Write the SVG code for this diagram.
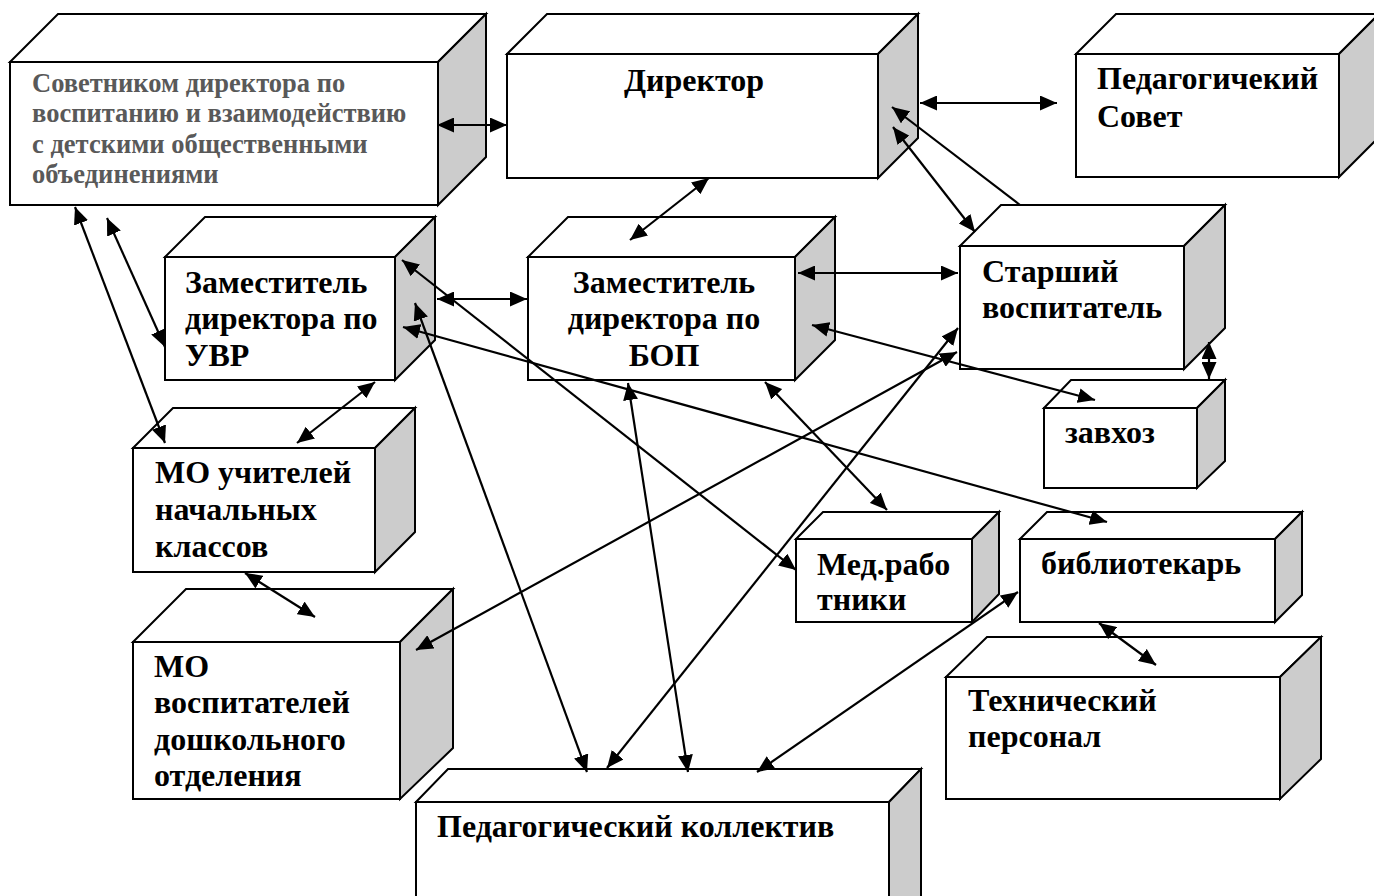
<svg xmlns="http://www.w3.org/2000/svg" width="1374" height="896" viewBox="0 0 1374 896">
<style>
.fr{fill:#fff;stroke:#000;stroke-width:2;stroke-linejoin:miter}
.sd{fill:#cccccc;stroke:#000;stroke-width:2;stroke-linejoin:miter}
.t{font-family:"Liberation Serif","Times New Roman",serif;font-weight:bold;font-size:32px;fill:#000}
.g{font-family:"Liberation Serif","Times New Roman",serif;font-weight:bold;font-size:26.5px;fill:#595959}
.c line{stroke:#000;stroke-width:2.2;fill:none}
</style>
<defs>
<marker id="a" markerUnits="userSpaceOnUse" markerWidth="17" markerHeight="15" refX="17" refY="7.5" orient="auto-start-reverse" viewBox="0 0 17 15">
<path d="M0,0 L17,7.5 L0,15 z" fill="#000"/>
</marker>
</defs>
<rect width="1374" height="896" fill="#fff"/>

<g id="sovetnik">
<polygon class="fr" points="10,62 58,14 486,14 438,62"/>
<polygon class="sd" points="438,62 486,14 486,157 438,205"/>
<rect class="fr" x="10" y="62" width="428" height="143"/>
<text class="g" x="32" y="92">Советником директора по</text>
<text class="g" x="32" y="122">воспитанию и взаимодействию</text>
<text class="g" x="32" y="153">с детскими общественными</text>
<text class="g" x="32" y="183">объединениями</text>
</g>

<g id="direktor">
<polygon class="fr" points="507,54 547,14 918,14 878,54"/>
<polygon class="sd" points="878,54 918,14 918,138 878,178"/>
<rect class="fr" x="507" y="54" width="371" height="124"/>
<text class="t" x="694" y="91" text-anchor="middle">Директор</text>
</g>

<g id="pedsovet">
<polygon class="fr" points="1076,54 1116,14 1379,14 1339,54"/>
<polygon class="sd" points="1339,54 1379,14 1379,137 1339,177"/>
<rect class="fr" x="1076" y="54" width="263" height="123"/>
<text class="t" x="1097" y="89">Педагогичекий</text>
<text class="t" x="1097" y="127">Совет</text>
</g>

<g id="zam-uvr">
<polygon class="fr" points="165,257 205,217 435,217 395,257"/>
<polygon class="sd" points="395,257 435,217 435,340 395,380"/>
<rect class="fr" x="165" y="257" width="230" height="123"/>
<text class="t" x="185" y="293">Заместитель</text>
<text class="t" x="185" y="329">директора по</text>
<text class="t" x="185" y="366">УВР</text>
</g>

<g id="zam-bop">
<polygon class="fr" points="528,257 568,217 835,217 795,257"/>
<polygon class="sd" points="795,257 835,217 835,340 795,380"/>
<rect class="fr" x="528" y="257" width="267" height="123"/>
<text class="t" x="664" y="293" text-anchor="middle">Заместитель</text>
<text class="t" x="664" y="329" text-anchor="middle">директора по</text>
<text class="t" x="664" y="366" text-anchor="middle">БОП</text>
</g>

<g id="starshiy">
<polygon class="fr" points="960,246 1001,205 1225,205 1184,246"/>
<polygon class="sd" points="1184,246 1225,205 1225,328 1184,369"/>
<rect class="fr" x="960" y="246" width="224" height="123"/>
<text class="t" x="982" y="282">Старший</text>
<text class="t" x="982" y="318">воспитатель</text>
</g>

<g id="zavhoz">
<polygon class="fr" points="1044,408 1071,380 1225,380 1197,408"/>
<polygon class="sd" points="1197,408 1225,380 1225,461 1197,488"/>
<rect class="fr" x="1044" y="408" width="153" height="80"/>
<text class="t" x="1065" y="443">завхоз</text>
</g>

<g id="mo-uchiteley">
<polygon class="fr" points="133,448 173,408 415,408 375,448"/>
<polygon class="sd" points="375,448 415,408 415,532 375,572"/>
<rect class="fr" x="133" y="448" width="242" height="124"/>
<text class="t" x="155" y="483">МО учителей</text>
<text class="t" x="155" y="520">начальных</text>
<text class="t" x="155" y="557">классов</text>
</g>

<g id="mo-vospitateley">
<polygon class="fr" points="133,642 186,589 453,589 400,642"/>
<polygon class="sd" points="400,642 453,589 453,748 400,799"/>
<rect class="fr" x="133" y="642" width="267" height="157"/>
<text class="t" x="154" y="677">МО</text>
<text class="t" x="154" y="713">воспитателей</text>
<text class="t" x="154" y="750">дошкольного</text>
<text class="t" x="154" y="786">отделения</text>
</g>

<g id="med">
<polygon class="fr" points="796,539 823,512 999,512 972,539"/>
<polygon class="sd" points="972,539 999,512 999,594 972,622"/>
<rect class="fr" x="796" y="539" width="176" height="83"/>
<text class="t" x="817" y="575">Мед.рабо</text>
<text class="t" x="817" y="610">тники</text>
</g>

<g id="bibliotekar">
<polygon class="fr" points="1020,539 1047,512 1302,512 1275,539"/>
<polygon class="sd" points="1275,539 1302,512 1302,595 1275,622"/>
<rect class="fr" x="1020" y="539" width="255" height="83"/>
<text class="t" x="1041" y="574">библиотекарь</text>
</g>

<g id="tehpersonal">
<polygon class="fr" points="946,677 987,637 1321,637 1280,677"/>
<polygon class="sd" points="1280,677 1321,637 1321,759 1280,799"/>
<rect class="fr" x="946" y="677" width="334" height="122"/>
<text class="t" x="968" y="711">Технический</text>
<text class="t" x="968" y="747">персонал</text>
</g>

<g id="pedkollektiv">
<polygon class="fr" points="416,802 448,769 921,769 889,802"/>
<polygon class="sd" points="889,802 921,769 921,930 889,960"/>
<rect class="fr" x="416" y="802" width="473" height="160"/>
<text class="t" x="437" y="837">Педагогический коллектив</text>
</g>

<g id="connectors" class="c">
<line x1="437" y1="125" x2="507" y2="125" marker-start="url(#a)" marker-end="url(#a)"/>
<line x1="920" y1="103" x2="1057" y2="103" marker-start="url(#a)" marker-end="url(#a)"/>
<line x1="709" y1="178" x2="630" y2="240" marker-start="url(#a)" marker-end="url(#a)"/>
<line x1="1020" y1="205" x2="892" y2="107" marker-end="url(#a)"/>
<line x1="893" y1="127" x2="975" y2="232" marker-start="url(#a)" marker-end="url(#a)"/>
<line x1="798" y1="273" x2="958" y2="273" marker-start="url(#a)" marker-end="url(#a)"/>
<line x1="437" y1="299" x2="527" y2="299" marker-start="url(#a)" marker-end="url(#a)"/>
<line x1="107" y1="218" x2="165" y2="347" marker-start="url(#a)" marker-end="url(#a)"/>
<line x1="75" y1="207" x2="165" y2="443" marker-start="url(#a)" marker-end="url(#a)"/>
<line x1="375" y1="382" x2="297" y2="443" marker-start="url(#a)" marker-end="url(#a)"/>
<line x1="245" y1="573" x2="315" y2="617" marker-start="url(#a)" marker-end="url(#a)"/>
<line x1="402" y1="260" x2="796" y2="570" marker-start="url(#a)" marker-end="url(#a)"/>
<line x1="403" y1="327" x2="1107" y2="522" marker-start="url(#a)" marker-end="url(#a)"/>
<line x1="415" y1="303" x2="587" y2="772" marker-start="url(#a)" marker-end="url(#a)"/>
<line x1="628" y1="383" x2="688" y2="772" marker-start="url(#a)" marker-end="url(#a)"/>
<line x1="812" y1="325" x2="1095" y2="400" marker-start="url(#a)" marker-end="url(#a)"/>
<line x1="765" y1="382" x2="887" y2="510" marker-start="url(#a)" marker-end="url(#a)"/>
<line x1="958" y1="328" x2="607" y2="768" marker-start="url(#a)" marker-end="url(#a)"/>
<line x1="957" y1="352" x2="416" y2="650" marker-start="url(#a)" marker-end="url(#a)"/>
<line x1="1209" y1="342" x2="1209" y2="379" marker-start="url(#a)" marker-end="url(#a)"/>
<line x1="1018" y1="592" x2="757" y2="772" marker-start="url(#a)" marker-end="url(#a)"/>
<line x1="1099" y1="623" x2="1156" y2="665" marker-start="url(#a)" marker-end="url(#a)"/>
</g>
</svg>
